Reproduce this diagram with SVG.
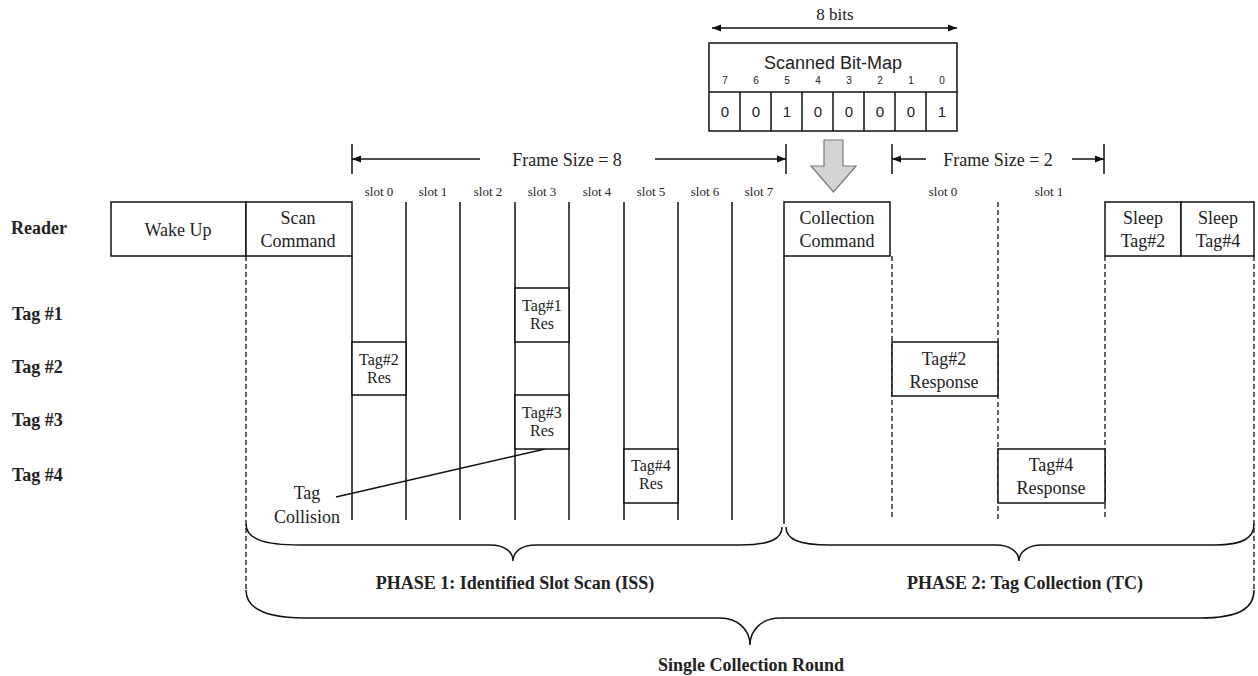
<svg xmlns="http://www.w3.org/2000/svg" width="1258" height="676" viewBox="0 0 1258 676">
<style>
.s{fill:none;stroke:#111;stroke-width:1.5}
.d{fill:none;stroke:#111;stroke-width:1.3;stroke-dasharray:5,3}
.box{fill:#fff;stroke:#111;stroke-width:1.5}
.t{font-family:"Liberation Serif",serif;font-size:18px;fill:#222;text-anchor:middle}
.ts{font-family:"Liberation Serif",serif;font-size:16px;fill:#222;text-anchor:middle}
.sl{font-family:"Liberation Serif",serif;font-size:13px;fill:#222;text-anchor:middle}
.b{font-family:"Liberation Serif",serif;font-size:18px;font-weight:bold;fill:#222}
.bc{font-family:"Liberation Serif",serif;font-size:18px;font-weight:bold;fill:#222;text-anchor:middle}
.sa{font-family:"Liberation Sans",sans-serif;fill:#222;text-anchor:middle}
</style>
<defs>
<marker id="ah" viewBox="0 0 10 10" refX="10" refY="5" markerWidth="9" markerHeight="9" orient="auto-start-reverse" markerUnits="userSpaceOnUse">
<path d="M0,1 L10,5 L0,9 z" fill="#111"/>
</marker>
</defs>

<g id="row-labels">
<text class="b" x="11" y="234">Reader</text>
<text class="b" x="12" y="320">Tag #1</text>
<text class="b" x="12" y="373">Tag #2</text>
<text class="b" x="12" y="426">Tag #3</text>
<text class="b" x="12" y="481">Tag #4</text>
</g>

<g id="bitmap">
<line class="s" x1="712" y1="28" x2="957" y2="28" marker-start="url(#ah)" marker-end="url(#ah)"/>
<text class="t" x="835" y="20" style="font-size:17px">8 bits</text>
<rect class="box" x="709" y="43" width="248" height="88"/>
<line class="s" x1="709" y1="92" x2="957" y2="92"/>
<path class="s" d="M740,92V131M771,92V131M802,92V131M833,92V131M864,92V131M895,92V131M926,92V131"/>
<text class="sa" x="833" y="69" style="font-size:18px">Scanned Bit-Map</text>
<g class="sa" style="font-size:10px">
<text x="725" y="84">7</text><text x="756" y="84">6</text><text x="787" y="84">5</text><text x="818" y="84">4</text>
<text x="849" y="84">3</text><text x="880" y="84">2</text><text x="911" y="84">1</text><text x="942" y="84">0</text>
</g>
<g class="sa" style="font-size:15px">
<text x="725" y="117">0</text><text x="756" y="117">0</text><text x="787" y="117">1</text><text x="818" y="117">0</text>
<text x="849" y="117">0</text><text x="880" y="117">0</text><text x="911" y="117">0</text><text x="942" y="117">1</text>
</g>
</g>

<g id="down-arrow">
<path d="M824,140 H843 V166 H856 L833.5,192 L811,166 H824 Z" fill="#d4d4d4" stroke="#7a7a7a" stroke-width="1.2"/>
</g>

<g id="frame8">
<line class="s" x1="352" y1="144" x2="352" y2="174"/>
<line class="s" x1="786" y1="144" x2="786" y2="174"/>
<line class="s" x1="480" y1="159" x2="352" y2="159" marker-end="url(#ah)"/>
<line class="s" x1="655" y1="159" x2="786" y2="159" marker-end="url(#ah)"/>
<text class="t" x="567" y="166">Frame Size = 8</text>
</g>
<g id="frame2">
<line class="s" x1="892" y1="144" x2="892" y2="174"/>
<line class="s" x1="1104" y1="144" x2="1104" y2="174"/>
<line class="s" x1="926" y1="159" x2="892" y2="159" marker-end="url(#ah)"/>
<line class="s" x1="1072" y1="159" x2="1104" y2="159" marker-end="url(#ah)"/>
<text class="t" x="998" y="166">Frame Size = 2</text>
</g>

<g id="slot-labels">
<text class="sl" x="379" y="196">slot 0</text><text class="sl" x="433" y="196">slot 1</text>
<text class="sl" x="488" y="196">slot 2</text><text class="sl" x="542" y="196">slot 3</text>
<text class="sl" x="597" y="196">slot 4</text><text class="sl" x="651" y="196">slot 5</text>
<text class="sl" x="705" y="196">slot 6</text><text class="sl" x="759" y="196">slot 7</text>
<text class="sl" x="943" y="196">slot 0</text><text class="sl" x="1049" y="196">slot 1</text>
</g>

<g id="connectors">
<path class="s" d="M406,202V520M460,202V520M515,202V520M569,202V520M624,202V520M678,202V520M732,202V520M352,256V520M784,256V524"/>
<path class="d" d="M246,256V592M1254,256V592"/>
<path class="d" d="M892,256V520M998,202V520M1105,256V520"/>
<line x1="336" y1="497" x2="545" y2="449" stroke="#111" stroke-width="1.3"/>
</g>

<g id="wake-up"><rect class="box" x="111" y="202" width="135" height="54"/><text class="t" x="178" y="236">Wake Up</text></g>
<g id="scan-command"><rect class="box" x="246" y="202" width="106" height="54"/><text class="t" x="298" y="224">Scan</text><text class="t" x="298" y="247">Command</text></g>
<g id="collection-command"><rect class="box" x="784" y="202" width="106" height="54"/><text class="t" x="837" y="224">Collection</text><text class="t" x="837" y="247">Command</text></g>
<g id="sleep2"><rect class="box" x="1105" y="202" width="76" height="54"/><text class="t" x="1143" y="224">Sleep</text><text class="t" x="1143" y="247">Tag#2</text></g>
<g id="sleep4"><rect class="box" x="1181" y="202" width="73" height="54"/><text class="t" x="1218" y="224">Sleep</text><text class="t" x="1218" y="247">Tag#4</text></g>

<g id="tag1-res"><rect class="box" x="515" y="288" width="54" height="54"/><text class="ts" x="542" y="311">Tag#1</text><text class="ts" x="542" y="329">Res</text></g>
<g id="tag2-res"><rect class="box" x="352" y="342" width="54" height="53"/><text class="ts" x="379" y="365">Tag#2</text><text class="ts" x="379" y="383">Res</text></g>
<g id="tag3-res"><rect class="box" x="515" y="395" width="54" height="54"/><text class="ts" x="542" y="418">Tag#3</text><text class="ts" x="542" y="436">Res</text></g>
<g id="tag4-res"><rect class="box" x="624" y="449" width="54" height="54"/><text class="ts" x="651" y="471">Tag#4</text><text class="ts" x="651" y="489">Res</text></g>
<g id="tag2-response"><rect class="box" x="892" y="342" width="106" height="54"/><text class="t" x="944" y="365">Tag#2</text><text class="t" x="944" y="388">Response</text></g>
<g id="tag4-response"><rect class="box" x="998" y="449" width="107" height="54"/><text class="t" x="1051" y="471">Tag#4</text><text class="t" x="1051" y="494">Response</text></g>

<g id="tag-collision"><text class="t" x="307" y="499">Tag</text><text class="t" x="307" y="523">Collision</text></g>

<g id="braces">
<path class="s" d="M246,524 C246,539 264,545 300,545 L490,545 C505,545 513,552 513,561 C513,552 521,545 536,545 L740,545 C770,545 782,539 782,527"/>
<path class="s" d="M786,527 C786,539 798,545 830,545 L996,545 C1010,545 1019,552 1019,561 C1019,552 1028,545 1042,545 L1215,545 C1243,545 1254,538 1254,524"/>
<path class="s" d="M246,590 C246,608 264,618 305,618 L720,618 C738,618 750,630 750,645 C750,630 762,618 780,618 L1200,618 C1240,618 1254,608 1254,590"/>
</g>

<g id="phase-labels">
<text class="bc" x="515" y="589">PHASE 1: Identified Slot Scan (ISS)</text>
<text class="bc" x="1025" y="589">PHASE 2: Tag Collection (TC)</text>
<text class="bc" x="751" y="671">Single Collection Round</text>
</g>
</svg>
